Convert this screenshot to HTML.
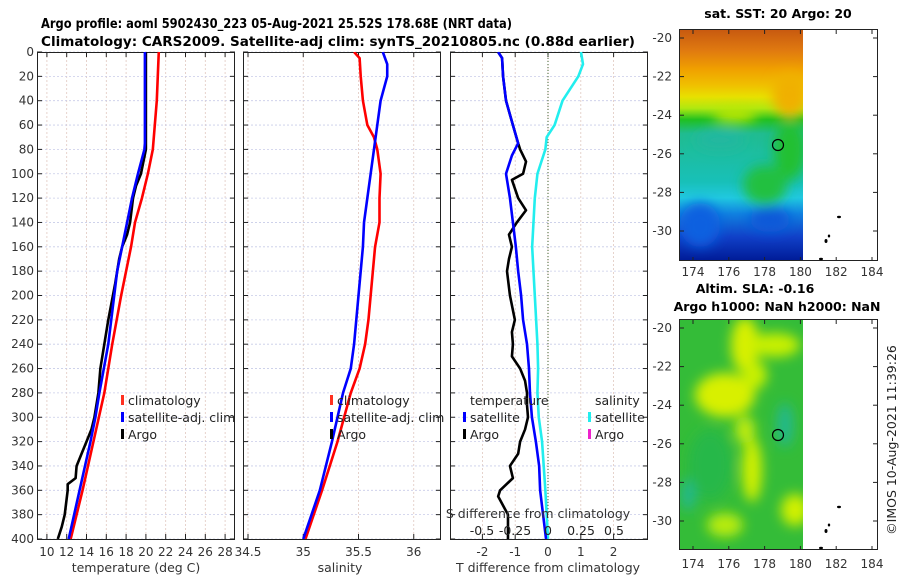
<!DOCTYPE html>
<html><head><meta charset="utf-8"><style>
html,body{margin:0;padding:0;background:#fff;}
svg{display:block;font-family:"DejaVu Sans","Liberation Sans",sans-serif;}
</style></head><body>
<svg id="c" width="900" height="580" viewBox="0 0 900 580" xmlns="http://www.w3.org/2000/svg">
<defs>
<linearGradient id="sstg" x1="0" y1="0" x2="0" y2="1">
<stop offset="0" stop-color="#c85a10"/><stop offset="0.09" stop-color="#e07a10"/>
<stop offset="0.17" stop-color="#f0a000"/><stop offset="0.24" stop-color="#f0c000"/>
<stop offset="0.29" stop-color="#e8e000"/><stop offset="0.34" stop-color="#b0e810"/>
<stop offset="0.39" stop-color="#20c020"/><stop offset="0.45" stop-color="#20bc90"/>
<stop offset="0.66" stop-color="#18c0b8"/>
<stop offset="0.73" stop-color="#20c8e0"/><stop offset="0.8" stop-color="#1080e0"/>
<stop offset="0.9" stop-color="#1040c8"/><stop offset="1" stop-color="#001c98"/>
</linearGradient>
<filter id="blur"><feGaussianBlur stdDeviation="6"/></filter>
<clipPath id="clip1"><rect x="680" y="30" width="123" height="230"/></clipPath>
<clipPath id="clip2"><rect x="680" y="320" width="123" height="229"/></clipPath>
<clipPath id="cp1"><rect x="37" y="52" width="198" height="487"/></clipPath>
<clipPath id="cp2"><rect x="243" y="52" width="198" height="487"/></clipPath>
<clipPath id="cp3"><rect x="450" y="52" width="198" height="487"/></clipPath>
</defs>
<text x="41" y="28" font-size="13" font-weight="bold" textLength="471" lengthAdjust="spacingAndGlyphs">Argo profile: aoml 5902430_223 05-Aug-2021 25.52S 178.68E (NRT data)</text>
<text x="41" y="46" font-size="13" font-weight="bold" textLength="594" lengthAdjust="spacingAndGlyphs">Climatology: CARS2009. Satellite-adj clim: synTS_20210805.nc (0.88d earlier)</text>

<!-- SST map -->
<g>
<g clip-path="url(#clip1)">
<rect x="680" y="30" width="123" height="230" fill="url(#sstg)"/>
<g filter="url(#blur)">
<ellipse cx="790" cy="95" rx="18" ry="22" fill="#f0b000"/>
<ellipse cx="790" cy="150" rx="16" ry="30" fill="#20c030"/>
<ellipse cx="765" cy="185" rx="22" ry="20" fill="#22c040"/>
<ellipse cx="700" cy="225" rx="20" ry="22" fill="#1060e0"/>
<ellipse cx="770" cy="220" rx="20" ry="12" fill="#1058d8"/>
<ellipse cx="735" cy="115" rx="22" ry="7" fill="#c0e800"/>
<ellipse cx="720" cy="140" rx="25" ry="10" fill="#20b8a0"/>
</g>
</g>
<circle cx="778" cy="145" r="5.5" fill="none" stroke="#000" stroke-width="1.2"/>
<rect x="679.5" y="29.5" width="198" height="231" fill="none" stroke="#222"/>
</g>
<text x="778" y="18" font-size="12.5" font-weight="bold" text-anchor="middle">sat. SST: 20 Argo: 20</text>

<!-- SLA map -->
<g>
<g clip-path="url(#clip2)">
<rect x="680" y="320" width="123" height="229" fill="#34bc38"/>
<g filter="url(#blur)">
<ellipse cx="745" cy="345" rx="14" ry="28" fill="#d8f000"/>
<ellipse cx="725" cy="395" rx="30" ry="22" fill="#d8f000"/>
<ellipse cx="775" cy="345" rx="25" ry="12" fill="#c8f000"/>
<ellipse cx="755" cy="375" rx="12" ry="14" fill="#c8f000"/>
<ellipse cx="752" cy="470" rx="10" ry="32" fill="#d0f000"/>
<ellipse cx="745" cy="430" rx="10" ry="14" fill="#c0ec10"/>
<ellipse cx="725" cy="525" rx="18" ry="12" fill="#b8ec10"/>
<ellipse cx="795" cy="510" rx="14" ry="16" fill="#d0f000"/>
<ellipse cx="785" cy="425" rx="8" ry="22" fill="#20b890"/>
<ellipse cx="688" cy="495" rx="7" ry="16" fill="#20b890"/>
<ellipse cx="710" cy="465" rx="22" ry="35" fill="#28b848"/>
</g>
</g>
<circle cx="778" cy="435" r="5.5" fill="none" stroke="#000" stroke-width="1.2"/>
<rect x="679.5" y="319.5" width="198" height="230" fill="none" stroke="#222"/>
</g>
<text x="755" y="293" font-size="12.5" font-weight="bold" text-anchor="middle">Altim. SLA: -0.16</text>
<text x="777" y="311" font-size="12.5" font-weight="bold" text-anchor="middle">Argo h1000: NaN h2000: NaN</text>
<g fill="#000">
<ellipse cx="821" cy="259" rx="2" ry="1.2"/><ellipse cx="826" cy="241" rx="1.5" ry="2"/><ellipse cx="829" cy="236" rx="1.2" ry="1.5"/><ellipse cx="839" cy="217" rx="2" ry="1.2"/>
<ellipse cx="821" cy="548" rx="2" ry="1.2"/><ellipse cx="826" cy="531" rx="1.5" ry="2"/><ellipse cx="829" cy="525" rx="1.2" ry="1.5"/><ellipse cx="839" cy="507" rx="2" ry="1.2"/>
</g>
<text transform="translate(896,440) rotate(-90)" font-size="12.5" fill="#222" text-anchor="middle">©IMOS 10-Aug-2021 11:39:26</text>
<g id="dyn"></g>
</svg>
<script>
// Depth grid values
const yTicks = [0,20,40,60,80,100,120,140,160,180,200,220,240,260,280,300,320,340,360,380,400];
const tTicks = [10,12,14,16,18,20,22,24,26,28];
const sTicks = [34.5,35,35.5,36];
const dTicks = [-2,-1,0,1,2];
const sdTicks = [-0.5,-0.25,0,0.25,0.5];
const sdTickLabels = ["-0.5","-0.25","0","0.25","0.5"];
// Temperature
const climTDepth = [0,20,40,60,80,100,120,140,160,180,200,240,280,320,360,400];
const climT = [21.3,21.2,21.1,20.9,20.7,20.2,19.6,18.9,18.5,18.0,17.5,16.6,15.8,14.7,13.6,12.4];
const satTDepth = [0,20,40,60,75,80,100,120,140,160,180,240,280,300,320,360,400];
const satT = [19.9,19.9,19.9,19.9,19.9,19.85,19.2,18.6,18.1,17.6,17.1,16.2,15.3,14.9,14.4,13.3,12.2];
const argoTDepth = [0,20,40,60,80,100,110,120,140,150,160,170,180,190,220,240,260,280,300,310,320,330,340,350,355,360,380,390,400];
const argoT = [20.0,20.0,20.0,20.0,20.0,19.5,19.0,18.7,18.4,18.1,17.6,17.3,17.1,16.9,16.2,15.8,15.4,15.2,14.8,14.5,14.0,13.5,13.0,12.9,12.1,12.1,11.8,11.5,11.1];
// Salinity
const climSDepth = [0,5,20,40,60,70,80,100,120,140,160,180,200,220,240,260,280,320,360,400];
const climS = [35.46,35.51,35.52,35.54,35.58,35.64,35.67,35.70,35.69,35.69,35.65,35.63,35.61,35.59,35.56,35.51,35.43,35.31,35.17,35.02];
const satSDepth = [0,10,20,40,60,80,100,120,140,160,180,220,240,260,280,320,360,400];
const satS = [35.72,35.76,35.76,35.70,35.67,35.64,35.61,35.58,35.55,35.54,35.52,35.48,35.46,35.43,35.36,35.26,35.15,35.0];
// Differences from climatology
const satTdDepth = [0,5,20,40,60,75,85,100,120,140,160,180,200,220,240,260,280,300,320,340,360,380,400];
const satTd = [-1.52,-1.40,-1.37,-1.28,-1.07,-0.91,-1.10,-1.28,-1.16,-1.07,-0.98,-0.91,-0.82,-0.76,-0.64,-0.58,-0.55,-0.49,-0.37,-0.27,-0.24,-0.15,-0.06];
const argoTdDepth = [0,5,20,40,60,75,80,90,100,105,120,130,140,150,160,170,180,200,220,230,240,250,260,270,280,290,300,310,320,330,340,350,360,365,380,400];
const argoTd = [-1.52,-1.40,-1.37,-1.28,-1.07,-0.91,-0.85,-0.67,-0.76,-1.10,-0.91,-0.67,-0.95,-1.19,-1.10,-1.19,-1.25,-1.16,-1.01,-1.10,-1.07,-1.10,-0.85,-0.70,-0.64,-0.64,-0.61,-0.70,-0.85,-0.91,-1.16,-1.07,-1.46,-1.52,-1.22,-1.22];
const satSdDepth = [0,10,20,40,60,70,80,100,120,140,160,200,240,260,280,300,320,360,400];
const satSd = [0.25,0.265,0.23,0.11,0.05,-0.01,-0.02,-0.08,-0.10,-0.11,-0.12,-0.10,-0.08,-0.075,-0.08,-0.07,-0.045,-0.02,0];
// Map axes
const lonTicks = [174,176,178,180,182,184];
const latTicks = [-20,-22,-24,-26,-28,-30];

const NS='http://www.w3.org/2000/svg';
const root=document.getElementById('dyn');
function mk(tag,attrs,parent){const e=document.createElementNS(NS,tag);for(const k in attrs)e.setAttribute(k,attrs[k]);(parent||root).appendChild(e);return e;}
const Y0=52,Y1=539;
function yD(d){return Y0+(d/400)*(Y1-Y0);}
const xT=v=>37+(v-9)/20*198;
const xS=v=>248+(v-34.5)*110.5;
const xD=v=>548+v*32.8;
const xSD=v=>548+v*132;
const panels=[[37,xT,tTicks,'temperature-panel','cp1'],[243,xS,sTicks,'salinity-panel','cp2'],[450,xD,dTicks,'difference-panel','cp3']];
const P={};
panels.forEach(([x0,fx,ticks,name,cp])=>{
  const g=mk('g',{});
  
  
  P[name]=g;
  ticks.forEach(t=>mk('line',{x1:fx(t),x2:fx(t),y1:Y0,y2:Y1,stroke:'#e0c8c0','stroke-dasharray':'2,2','stroke-width':0.8},g));
  yTicks.forEach(d=>{mk('line',{x1:x0,x2:x0+198,y1:yD(d),y2:yD(d),stroke:'#c8cce8','stroke-dasharray':'2,2','stroke-width':0.8},g);
    mk('line',{x1:x0,x2:x0+5,y1:yD(d),y2:yD(d),stroke:'#222'},g);mk('line',{x1:x0+193,x2:x0+198,y1:yD(d),y2:yD(d),stroke:'#222'},g);});
  ticks.forEach(t=>{mk('line',{x1:fx(t),x2:fx(t),y1:Y1,y2:Y1-5,stroke:'#222'},g);mk('line',{x1:fx(t),x2:fx(t),y1:Y0,y2:Y0+5,stroke:'#222'},g);});
  mk('rect',{x:x0+0.5,y:Y0+0.5,width:197,height:Y1-Y0,fill:'none',stroke:'#222'},g);
  ticks.forEach(t=>{const tx=mk('text',{x:fx(t),y:556,'font-size':12,fill:'#333','text-anchor':'middle'},g);tx.textContent=String(t);});
});
yTicks.forEach(d=>{const t=mk('text',{x:34,y:yD(d)+4,'font-size':12,fill:'#333','text-anchor':'end'});
  
  
  t.textContent=String(d);});
mk('line',{x1:548,x2:548,y1:Y0,y2:Y1,stroke:'#446633','stroke-dasharray':'1,2','stroke-width':1},P['difference-panel']);
function line(g,depths,vals,fx,color,name,cp){
  const p=mk('polyline',{points:depths.map((d,i)=>fx(vals[i])+','+yD(d)).join(' '),fill:'none',stroke:color,'stroke-width':2.6,'stroke-linejoin':'round','clip-path':'url(#'+cp+')'},g);
  
  
}
const gT=P['temperature-panel'],gS=P['salinity-panel'],gD=P['difference-panel'];
line(gT,climTDepth,climT,xT,'#ff0000','climatology-temperature-line','cp1');
line(gT,argoTDepth,argoT,xT,'#000','argo-temperature-line','cp1');
line(gT,satTDepth,satT,xT,'#0000ff','satellite-temperature-line','cp1');
line(gS,climSDepth,climS,xS,'#ff0000','climatology-salinity-line','cp2');
line(gS,satSDepth,satS,xS,'#0000ff','satellite-salinity-line','cp2');
line(gD,satSdDepth,satSd,xSD,'#22eeee','satellite-salinity-diff-line','cp3');
line(gD,argoTdDepth,argoTd,xD,'#000','argo-temperature-diff-line','cp3');
line(gD,satTdDepth,satTd,xD,'#0000ff','satellite-temperature-diff-line','cp3');
function leg(x,y,color,label,name){
  const g=mk('g',{});
  
  
  if(color)mk('rect',{x:x-7,y:y-10,width:3,height:10,fill:color},g);
  const t=mk('text',{x:x,y:y,'font-size':12.5,fill:'#222'},g);t.textContent=label;
}
leg(128,405,'#ff3020','climatology','legend-climatology');
leg(128,422,'#0000ff','satellite-adj. clim','legend-satellite');
leg(128,439,'#000','Argo','legend-argo');
leg(337,405,'#ff3020','climatology','legend-climatology-2');
leg(337,422,'#0000ff','satellite-adj. clim','legend-satellite-2');
leg(337,439,'#000','Argo','legend-argo-2');
leg(470,405,null,'temperature','legend-temperature-header');
leg(470,422,'#0000ff','satellite','legend-t-satellite');
leg(470,439,'#000','Argo','legend-t-argo');
leg(595,405,null,'salinity','legend-salinity-header');
leg(595,422,'#22eeee','satellite','legend-s-satellite');
leg(595,439,'#ee22cc','Argo','legend-s-argo');
sdTicks.forEach((v,i)=>{const t=mk('text',{x:xSD(v),y:535,'font-size':12.5,fill:'#222','text-anchor':'middle'});
  
  
  t.textContent=sdTickLabels[i];});
function lbl(x,y,s,name){const t=mk('text',{x:x,y:y,'font-size':12.5,fill:'#333','text-anchor':'middle'});
  
  
  t.textContent=s;}
lbl(538,518,'S difference from climatology','s-diff-axis-title');
lbl(136,572,'temperature (deg C)','temperature-axis-title');
lbl(340,572,'salinity','salinity-axis-title');
lbl(548,572,'T difference from climatology','t-diff-axis-title');
// map ticks
const lonX=v=>693+(v-174)*17.9;
[[38,19.3,272,261,30],[328,19.3,564,550,320]].forEach(([y20,py,ly,yb,yt])=>{
  lonTicks.forEach(v=>{mk('line',{x1:lonX(v),x2:lonX(v),y1:yb,y2:yb-4,stroke:'#222'});mk('line',{x1:lonX(v),x2:lonX(v),y1:yt,y2:yt+4,stroke:'#222'});
    const t=mk('text',{x:lonX(v),y:ly+4,'font-size':12,fill:'#333','text-anchor':'middle'});
    
    
    t.textContent=String(v);});
  latTicks.forEach(v=>{const y=y20+(-20-v)*py;mk('line',{x1:680,x2:684,y1:y,y2:y,stroke:'#222'});mk('line',{x1:873,x2:877,y1:y,y2:y,stroke:'#222'});
    const t=mk('text',{x:672,y:y+4,'font-size':12,fill:'#333','text-anchor':'end'});
    
    
    t.textContent=String(v);});
});
</script>
</body></html>
